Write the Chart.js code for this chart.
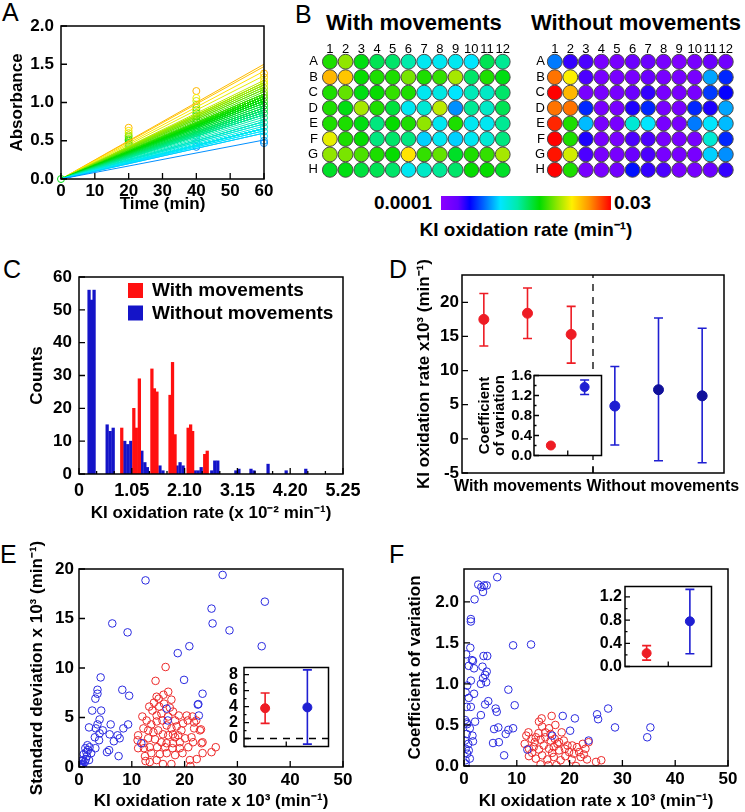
<!DOCTYPE html>
<html lang="en">
<head>
<meta charset="UTF-8" />
<title>KI oxidation rate in 96-well plates</title>
<script src="https://cdn.jsdelivr.net/npm/chart.js"></script>
<style>
  body { margin:0; width:745px; height:812px; position:relative; background:#fff; overflow:hidden;
         font-family:"Liberation Sans", Arial, sans-serif; color:#000; }
  .lbl { position:absolute; white-space:nowrap; line-height:1; }
  .pl { font-size:25px; }
  .b { font-weight:bold; }
  .box { position:absolute; }
  #cbar { position:absolute; left:441px; top:196px; width:170px; height:14px; }
</style>
</head>
<body>
<div class="lbl pl" style="left:2px;top:0px">A</div>
<div class="lbl pl" style="left:295px;top:2px">B</div>
<div class="lbl pl" style="left:3px;top:257px">C</div>
<div class="lbl pl" style="left:389px;top:257px">D</div>
<div class="lbl pl" style="left:0px;top:542px">E</div>
<div class="lbl pl" style="left:389px;top:542px">F</div>

<div class="lbl b" style="left:326px;top:12px;font-size:22px">With movements</div>
<div class="lbl b" style="left:531px;top:12px;font-size:22px">Without movements</div>
<div id="cbar"></div>
<div class="lbl b" style="right:313px;top:193px;font-size:19px">0.0001</div>
<div class="lbl b" style="left:614px;top:193px;font-size:19px">0.03</div>
<div class="lbl b" style="left:526px;top:220px;font-size:19px;transform:translateX(-50%)">KI oxidation rate (min⁻¹)</div>

<script>
// ---- data ----
// well plates, KI oxidation rate x10^-3 min^-1, rows A-H, columns 1-12
const plateRows = ['A', 'B', 'C', 'D', 'E', 'F', 'G', 'H'];
const plateCols = [1, 2, 3, 4, 5, 6, 7, 8, 9, 10, 11, 12];
const rateWith = [
  [18, 20.5, 17, 15.5, 15, 13.5, 11, 11, 11, 10.5, 15.5, 14],
  [25, 24.5, 17.5, 18, 18, 20, 18, 18.5, 21, 15, 18, 17],
  [18, 19.5, 17, 17.5, 18.5, 18, 11, 11.5, 10.5, 13, 12.5, 15],
  [18, 17, 21, 18, 16, 11, 12, 21.5, 8.5, 14, 12.5, 15.5],
  [18, 18, 17, 14.5, 17.5, 18, 20.5, 11, 18, 11, 11, 14],
  [22.5, 18, 17.5, 14.5, 15, 14.5, 10, 11, 10, 11, 12, 14.5],
  [20.5, 20, 19, 18, 17.5, 23.5, 18.5, 19.5, 16.5, 18, 18.5, 21],
  [16.5, 17, 16, 15.5, 15, 11, 12.5, 14, 15, 17.5, 17.5, 16.5]
];
const rateWithout = [
  [8, 4, 3.5, 1.5, 1.5, 2.5, 2.5, 1.5, 1, 1.5, 2.5, 2],
  [27, 23, 3.5, 1.5, 1.5, 1.5, 2.5, 1.5, 1.5, 1.5, 9, 6],
  [30, 25, 1.5, 1.5, 1.5, 2.5, 4, 1.5, 1.5, 1.5, 6.5, 5],
  [27, 27, 6, 1.5, 1.5, 4.5, 6, 1.5, 1.5, 6, 4.5, 9],
  [29, 18, 9.5, 1.5, 1.5, 12, 10.5, 1.5, 1.5, 8, 10.5, 9.5],
  [30, 18, 4.5, 1.5, 1.5, 3.5, 3.5, 1.5, 1.5, 1.5, 12, 6],
  [29.5, 22, 3.5, 1.5, 1.5, 2.5, 3.5, 1.5, 1.5, 1.5, 10, 8.5],
  [30, 18, 1.5, 1.5, 2, 5.5, 4, 3.5, 1.5, 1.5, 2.5, 4]
];
const rateMax = 30;

// A: absorbance readings
const absAt0 = [0];
const absAt20 = [0.67, 0.63, 0.6, 0.57, 0.55, 0.52, 0.5, 0.47, 0.45, 0.42, 0.39, 0.36, 0.33, 0.3, 0.27, 0.25];
const absAt40 = [1.15, 1.06, 1.02, 0.97, 0.93, 0.9, 0.86, 0.82, 0.78, 0.74, 0.7, 0.66, 0.62, 0.57, 0.52, 0.47, 0.42];
const absAt60 = [1.38, 1.33, 1.28, 1.24, 1.19, 1.14, 1.1, 1.06, 1.01, 0.96, 0.91, 0.86, 0.8, 0.74, 0.68, 0.62, 0.56, 0.5, 0.47];
const whiteFitRate = 18.7;

// C: histogram (x 10^-2 min^-1)
const histBinsWith = [0.85, 1.09, 1.14, 1.20, 1.45, 1.50, 1.55, 1.81, 1.86, 1.91, 2.17, 2.22, 2.26, 2.50, 2.55];
const histCountsWith = [14, 20, 14, 29, 32, 26, 25, 24, 34, 12, 14, 15, 13, 6, 7];
const histBinsWithout = [0.20, 0.25, 0.30, 0.56, 0.62, 0.68, 0.91, 0.97, 1.03, 1.25, 1.31, 1.36, 1.61, 1.67,
  1.95, 2.01, 2.07, 2.31, 2.37, 2.43, 2.64, 2.70, 2.76, 3.12, 3.18, 3.42, 3.48, 3.76, 4.12, 4.51];
const histCountsWithout = [56, 53, 56, 15, 13, 14, 10, 9, 10, 7, 3.5, 2, 2.5, 1,
  2.5, 3.5, 2.5, 1, 1, 2, 1, 4, 4, 1, 1.5, 1.5, 1, 3, 1, 1.5];
const histLabels = ['With movements', 'Without movements'];

// D: mean +/- SD of three experiments per condition (x10^3 min^-1)
const dGroups = ['With movements', 'Without movements'];
const dWithMean = [17.5, 18.4, 15.3];
const dWithLo = [13.6, 14.7, 11.1];
const dWithHi = [21.3, 22.1, 19.4];
const dWithoutMean = [4.8, 7.2, 6.3];
const dWithoutLo = [-0.9, -3.2, -3.5];
const dWithoutHi = [10.6, 17.7, 16.2];
const dCvMean = [0.2, 1.37];
const dCvLo = [0.18, 1.22];
const dCvHi = [0.22, 1.51];

// E: standard deviation vs rate
const eBlueX = [12.6, 27.2, 25.1, 35.2, 25.3, 6.3, 9.2, 28.5, 20.9, 34.6, 18.7, 19.9, 4.1, 8.2, 9.5, 3.5, 3.5, 3.1, 23.4, 22.6,
  16.6, 22.7, 16.8, 11.8, 2.5, 4.2, 3.9, 3.5, 1.9, 6.0, 9.3, 8.4, 3.2, 4.5, 5.8, 7.3, 7.7, 6.6, 3.0, 3.9,
  3.8, 3.1, 5.3, 5.7, 7.5, 0.1, 0.3, 0.6, 0.8, 1.1, 0.8, 1.3, 1.5, 0.9, 1.4, 1.7, 1.2, 2.0, 1.6, 2.3,
  0.4, 0.4, 1.9, 0.2, 0.6, 22.5];
const eBlueY = [18.85, 19.4, 16.0, 16.7, 14.5, 14.5, 13.6, 13.8, 12.2, 12.2, 11.5, 8.8, 9.05, 7.8, 7.2, 7.8, 7.4, 6.9, 7.4, 6.35,
  5.9, 5.2, 4.7, 2.4, 5.7, 5.7, 4.8, 4.3, 4.0, 4.3, 4.3, 3.9, 3.9, 3.7, 3.3, 3.2, 2.9, 2.6, 3.0, 3.4,
  2.7, 1.9, 1.5, 1.7, 1.1, 0.0, 0.1, 0.2, 0.3, 0.5, 0.7, 0.8, 1.1, 1.3, 1.5, 1.7, 1.9, 2.0, 2.2, 1.4,
  0.6, 0.3, 0.7, 0.05, 0.0, 6.3];
const eRedX = [16.4, 14.5, 14.7, 16.0, 15.1, 16.9, 17.5, 12.0, 13.3, 13.9, 15.2, 17.8, 18.9, 20.4, 21.5, 22.9, 21.8, 21.8, 23.1, 12.8,
  13.7, 14.7, 15.8, 16.6, 17.5, 18.5, 19.4, 18.8, 17.8, 16.9, 15.9, 15.0, 14.1, 13.1, 12.2, 11.2, 11.1, 12.2, 13.1, 14.4,
  15.6, 16.6, 17.8, 19.1, 20.1, 21.3, 21.6, 23.2, 23.4, 20.7, 19.1, 17.7, 16.3, 14.8, 13.4, 12.3, 11.2, 13.7, 15.3, 16.6,
  18.2, 19.6, 12.5, 14.7, 12.6, 15.9, 17.5, 21.0, 22.3, 21.1, 25.1, 25.9, 23.4, 13.4, 18.2, 15.6, 14.7, 16.9, 18.2, 19.7,
  20.6, 22.2, 16.1, 17.2, 14.2];
const eRedY = [10.1, 8.7, 7.1, 7.3, 6.9, 7.6, 6.8, 5.1, 6.1, 5.7, 6.1, 5.6, 5.2, 5.2, 5.1, 3.7, 4.5, 3.9, 3.8, 4.7,
  4.3, 4.6, 4.7, 4.2, 3.9, 4.1, 3.7, 3.2, 3.3, 3.2, 3.3, 3.7, 3.5, 3.7, 3.9, 3.2, 2.7, 2.4, 2.9, 2.8,
  2.5, 2.4, 2.4, 2.5, 2.9, 3.0, 2.5, 2.4, 2.5, 2.0, 1.9, 1.9, 2.0, 2.0, 2.0, 1.9, 1.9, 1.4, 1.3, 1.4,
  1.2, 1.4, 1.1, 0.7, 0.6, 0.3, 0.3, 0.7, 0.8, 0.1, 1.5, 2.0, 1.4, 0.5, 3.0, 5.4, 5.2, 5.1, 4.7, 4.4,
  4.7, 4.7, 6.4, 6.0, 6.5];
const eSdMean = [3.8, 3.9];
const eSdLo = [1.9, -0.7];
const eSdHi = [5.7, 8.6];

// F: coefficient of variation vs rate
const fBlueX = [6.3, 2.7, 3.8, 4.3, 3.3, 3.6, 2.0, 1.3, 1.3, 9.3, 12.7, 1.2, 0.4, 3.7, 4.4, 1.5, 1.7, 0.9, 3.5, 1.9,
  4.3, 4.0, 3.6, 1.3, 3.2, 4.2, 0.6, 0.3, 1.9, 8.4, 0.9, 4.0, 4.6, 9.6, 0.5, 1.3, 6.0, 6.2, 3.2, 0.2,
  2.1, 0.5, 0.6, 6.5, 5.7, 1.1, 9.3, 8.4, 18.7, 21.0, 25.2, 27.3, 25.4, 28.6, 35.3, 34.7, 20.1, 23.6, 16.7, 7.9,
  5.5, 6.6, 7.6, 1.6, 1.7, 0.8, 0.3, 0.6, 1.1, 0.3, 0.2, 0.5, 12.0, 0.3, 0.9];
const fBlueY = [2.30, 2.21, 2.20, 2.20, 2.18, 2.12, 2.03, 1.79, 1.76, 1.47, 1.48, 1.44, 1.36, 1.34, 1.34, 1.29, 1.28, 1.22, 1.21, 1.19,
  1.15, 1.11, 1.07, 1.04, 1.00, 1.02, 0.98, 0.90, 0.88, 0.93, 0.83, 0.75, 0.79, 0.74, 0.72, 0.72, 0.70, 0.66, 0.62, 0.56,
  0.54, 0.53, 0.51, 0.47, 0.45, 0.46, 0.46, 0.44, 0.61, 0.58, 0.63, 0.70, 0.57, 0.47, 0.47, 0.35, 0.43, 0.31, 0.37, 0.39,
  0.28, 0.29, 0.13, 0.37, 0.30, 0.27, 0.21, 0.15, 0.09, 0.07, 0.31, 0.39, 0.20, 0.03, 0.19];
const fRedX = [14.7, 16.6, 12.2, 14.1, 14.8, 16.1, 17.3, 18.5, 12.8, 13.6, 14.5, 15.4, 16.4, 17.2, 18.0, 18.9, 20.5, 21.4, 22.5, 23.0,
  11.5, 12.3, 13.2, 14.2, 15.1, 16.1, 17.0, 18.0, 19.1, 19.9, 20.8, 21.8, 22.7, 23.3, 25.0, 26.0, 12.3, 13.6, 14.8, 15.8,
  17.0, 18.3, 19.2, 20.4, 21.2, 16.0, 17.5, 14.5, 12.9, 16.7, 17.7, 16.4, 15.4, 13.4, 19.6, 22.1, 23.6, 14.2, 11.8];
const fRedY = [0.58, 0.61, 0.41, 0.40, 0.48, 0.46, 0.50, 0.41, 0.33, 0.35, 0.32, 0.35, 0.31, 0.33, 0.29, 0.31, 0.25, 0.23, 0.27, 0.21,
  0.27, 0.21, 0.23, 0.20, 0.25, 0.21, 0.23, 0.19, 0.21, 0.17, 0.15, 0.17, 0.14, 0.08, 0.05, 0.07, 0.12, 0.09, 0.13, 0.08,
  0.11, 0.07, 0.12, 0.08, 0.00, 0.01, 0.01, 0.02, 0.16, 0.16, 0.27, 0.39, 0.41, 0.29, 0.25, 0.11, 0.29, 0.54, 0.37];
const fCvMean = [0.23, 0.78];
const fCvLo = [0.11, 0.22];
const fCvHi = [0.36, 1.33];

// ---- styling helpers ----
const FONT = '"Liberation Sans", Arial, sans-serif';
Chart.defaults.font.family = FONT;
Chart.defaults.color = '#000';
const RED = '#ee1c24';
const BLUE = '#1f1fd2';
const NAVY = '#10109a';

const cmapStops = [
  [0.00, [140, 0, 255]], [0.10, [100, 0, 255]], [0.17, [0, 0, 255]], [0.25, [0, 100, 255]],
  [0.35, [0, 230, 255]], [0.45, [0, 235, 170]], [0.58, [0, 220, 0]], [0.68, [140, 230, 0]],
  [0.77, [255, 240, 0]], [0.87, [255, 150, 0]], [1.00, [255, 0, 0]]
];
function rateColor(v) {
  const f = Math.max(0, Math.min(1, v / rateMax));
  for (let i = 1; i < cmapStops.length; i++) {
    const [f1, c1] = cmapStops[i];
    if (f <= f1) {
      const [f0, c0] = cmapStops[i - 1];
      const t = (f - f0) / (f1 - f0);
      const c = c0.map((a, k) => Math.round(a + (c1[k] - a) * t));
      return `rgb(${c[0]},${c[1]},${c[2]})`;
    }
  }
  return 'rgb(255,0,0)';
}
document.getElementById('cbar').style.background =
  'linear-gradient(to right,' + cmapStops.map(([f, c]) => `rgb(${c.join(',')}) ${f * 100}%`).join(',') + ')';

const bold = size => ({ size, weight: 'bold' });
const noGrid = { display: false, drawTicks: false };

// box around plot area + ticks pointing inwards
const framePlugin = {
  id: 'frame',
  beforeDraw(chart, args, opts) {
    if (!opts.bg) return;
    const a = chart.chartArea, c = chart.ctx;
    c.save(); c.fillStyle = opts.bg;
    c.fillRect(a.left, a.top, a.right - a.left, a.bottom - a.top);
    c.restore();
  },
  afterDraw(chart, args, opts) {
    const a = chart.chartArea, c = chart.ctx, xs = chart.scales.x, ys = chart.scales.y;
    c.save();
    c.strokeStyle = '#000';
    c.lineWidth = 1.5;
    c.strokeRect(a.left, a.top, a.right - a.left, a.bottom - a.top);
    c.lineWidth = 1.3;
    const len = opts.tickLen || 6;
    const xv = opts.xTicks || xs.ticks.map(t => t.value);
    const yv = opts.yTicks || ys.ticks.map(t => t.value);
    c.beginPath();
    xv.forEach(v => { const p = xs.getPixelForValue(v); c.moveTo(p, a.bottom); c.lineTo(p, a.bottom - len); });
    yv.forEach(v => { const p = ys.getPixelForValue(v); c.moveTo(a.left, p); c.lineTo(a.left + len, p); });
    if (opts.minorX) {
      for (let v = xs.min; v <= xs.max + 1e-9; v += opts.minorX) {
        const p = xs.getPixelForValue(v); c.moveTo(p, a.bottom); c.lineTo(p, a.bottom - len / 2);
      }
    }
    if (opts.minorY) {
      for (let v = Math.ceil(ys.min / opts.minorY) * opts.minorY; v <= ys.max + 1e-9; v += opts.minorY) {
        const p = ys.getPixelForValue(v); c.moveTo(a.left, p); c.lineTo(a.left + len / 2, p);
      }
    }
    c.stroke();
    c.restore();
  }
};

// vertical error bars, drawn under the points
const errorBarPlugin = {
  id: 'errbars',
  beforeDatasetsDraw(chart) {
    const c = chart.ctx, xs = chart.scales.x, ys = chart.scales.y;
    chart.data.datasets.forEach(ds => {
      if (!ds.errLo) return;
      c.save();
      c.strokeStyle = ds.errColor;
      c.lineWidth = 1.6;
      ds.data.forEach((pt, i) => {
        const x = xs.getPixelForValue(pt.x);
        const y1 = ys.getPixelForValue(ds.errLo[i]), y2 = ys.getPixelForValue(ds.errHi[i]);
        c.beginPath();
        c.moveTo(x, y1); c.lineTo(x, y2);
        c.moveTo(x - 4.5, y1); c.lineTo(x + 4.5, y1);
        c.moveTo(x - 4.5, y2); c.lineTo(x + 4.5, y2);
        c.stroke();
      });
      c.restore();
    });
  }
};

// square legend inside the histogram
const boxLegend = {
  id: 'boxLegend',
  afterDraw(chart, args, opts) {
    const c = chart.ctx, a = chart.chartArea;
    c.save();
    c.font = `bold 19px ${FONT}`;
    c.textBaseline = 'middle';
    chart.data.datasets.forEach((ds, i) => {
      const y = a.top + opts.top + i * opts.gap;
      c.fillStyle = ds.backgroundColor;
      c.fillRect(a.left + opts.left, y, 15, 15);
      c.fillStyle = '#000';
      c.fillText(ds.label, a.left + opts.left + 24, y + 8);
    });
    c.restore();
  }
};

// put a chart so that its plot area lands on box [L,T,R,B]; m = space for axes [left,top,right,bottom]
function place(box, m, config) {
  const [L, T, R, B] = box, [ml, mt, mr, mb] = m;
  const div = document.createElement('div');
  div.className = 'box';
  Object.assign(div.style, {
    left: (L - ml) + 'px', top: (T - mt) + 'px',
    width: (R - L + ml + mr) + 'px', height: (B - T + mt + mb) + 'px'
  });
  const cv = document.createElement('canvas');
  div.appendChild(cv);
  document.body.appendChild(div);
  const o = config.options;
  o.responsive = true;
  o.maintainAspectRatio = false;
  o.animation = false;
  o.devicePixelRatio = 1;
  const xs = o.scales.x, ys = o.scales.y;
  const xTop = xs.position === 'top';
  o.layout = { padding: { left: 0, right: mr, top: xTop ? 0 : mt, bottom: xTop ? mb : 0 } };
  xs.afterFit = s => { s.height = xTop ? mt : mb; s.paddingLeft = 0; s.paddingRight = 0; };
  ys.afterFit = s => { s.width = ml; s.paddingTop = 0; s.paddingBottom = 0; };
  o.plugins = Object.assign({ legend: { display: false }, tooltip: { enabled: false } }, o.plugins || {});
  return new Chart(cv, config);
}

function axisTitle(text, size, pad) {
  return { display: true, text, font: bold(size), padding: pad === undefined ? { top: 4, bottom: 4 } : pad };
}

// ---- A: absorbance vs time ----
const aLines = rateWith.flat().slice().sort((p, q) => p - q).map(r => ({
  data: [{ x: 0, y: 0 }, { x: 60, y: r * 60 / 1000 }],
  showLine: true, borderColor: rateColor(r), borderWidth: 1, pointRadius: 0
}));
aLines.push({
  data: [{ x: 0, y: 0 }, { x: 60, y: whiteFitRate * 60 / 1000 }],
  showLine: true, borderColor: '#fff', borderWidth: 1.6, pointRadius: 0
});
// readings coloured like the fit lines: lowest reading cyan, highest orange
const rateLo = Math.min(...rateWith.flat()), rateHi = Math.max(...rateWith.flat());
[[0, absAt0], [20, absAt20], [40, absAt40], [60, absAt60]].forEach(([t, vals]) => {
  const lo = Math.min(...vals), hi = Math.max(...vals);
  aLines.push({
    data: vals.map(y => ({ x: t, y })),
    pointRadius: 3.5, pointBorderWidth: 1, pointBackgroundColor: 'rgba(0,0,0,0)',
    pointBorderColor: vals.map(y => rateColor(hi > lo ? rateLo + (y - lo) / (hi - lo) * (rateHi - rateLo) : 17)),
    clip: false
  });
});
place([61, 26, 264, 179], [58, 10, 12, 40], {
  type: 'scatter',
  data: { datasets: aLines },
  options: {
    scales: {
      x: { type: 'linear', min: 0, max: 60, grid: noGrid, border: { display: false },
           ticks: { stepSize: 10, font: bold(17), padding: 2, maxRotation: 0 },
           title: axisTitle('Time (min)', 17) },
      y: { min: 0, max: 2, grid: noGrid, border: { display: false },
           ticks: { stepSize: 0.5, font: bold(17), padding: 7, callback: v => v.toFixed(1) },
           title: axisTitle('Absorbance', 17) }
    }
  },
  plugins: [framePlugin]
});

// ---- B: well plates ----
function plateConfig(rates, rowPad) {
  const pts = [];
  rates.forEach((row, r) => row.forEach((v, c) => pts.push({ x: plateCols[c], y: r + 1 })));
  const cols = rates.flat().map(rateColor);
  return {
    type: 'scatter',
    data: { datasets: [{ data: pts, pointRadius: 7.4, pointBorderWidth: 1, pointBorderColor: '#4a4a4a',
                         pointBackgroundColor: cols, clip: false }] },
    options: {
      scales: {
        x: { type: 'linear', position: 'top', min: 0.5, max: 12.5, grid: noGrid, border: { display: false },
             afterBuildTicks: s => { s.ticks = plateCols.map(v => ({ value: v })); },
             ticks: { font: { size: 13 }, padding: -3, autoSkip: false, maxRotation: 0 } },
        y: { type: 'linear', reverse: true, min: 0.5, max: 8.5, grid: noGrid, border: { display: false },
             afterBuildTicks: s => { s.ticks = plateRows.map((r, i) => ({ value: i + 1 })); },
             ticks: { font: { size: 13 }, padding: rowPad, autoSkip: false, callback: v => plateRows[v - 1] } }
      }
    }
  };
}
place([322, 54, 517, 184], [22, 16, 2, 2], plateConfig(rateWith, 4));
place([547, 54, 740, 184], [22, 16, 2, 2], plateConfig(rateWithout, 2));

// ---- C: histogram ----
place([79, 277, 343, 474], [56, 10, 24, 54], {
  type: 'bar',
  data: {
    datasets: [
      { label: histLabels[0], data: histBinsWith.map((x, i) => ({ x, y: histCountsWith[i] })),
        backgroundColor: '#ff1010', barThickness: 2.6, grouped: false },
      { label: histLabels[1], data: histBinsWithout.map((x, i) => ({ x, y: histCountsWithout[i] })),
        backgroundColor: '#1414c8', barThickness: 2.6, grouped: false }
    ]
  },
  options: {
    scales: {
      x: { type: 'linear', min: 0, max: 5.25, offset: false, grid: noGrid, border: { display: false },
           afterBuildTicks: s => { s.ticks = [0, 1.05, 2.1, 3.15, 4.2, 5.25].map(v => ({ value: v })); },
           ticks: { font: bold(18), padding: 6, maxRotation: 0, autoSkip: false,
                    callback: v => v === 0 ? '0' : v.toFixed(2) },
           title: axisTitle('KI oxidation rate (x 10⁻² min⁻¹)', 17) },
      y: { min: 0, max: 60, grid: noGrid, border: { display: false },
           ticks: { stepSize: 10, font: bold(17), padding: 7 },
           title: axisTitle('Counts', 17) }
    },
    plugins: { frame: { minorX: 0.35 }, boxLegend: { left: 49, top: 6, gap: 22.5 } }
  },
  plugins: [framePlugin, boxLegend]
});

// ---- D: three experiments ----
place([462, 275, 724, 473], [52, 45, 15, 26], {
  type: 'scatter',
  data: {
    datasets: [
      { data: [{ x: 3.5, y: -5 }, { x: 3.5, y: 24 }], showLine: true, borderColor: '#000',
        borderDash: [7, 6], borderWidth: 1.3, pointRadius: 0 },
      { data: dWithMean.map((y, i) => ({ x: i + 1, y })), pointRadius: 5, pointBackgroundColor: RED,
        pointBorderColor: RED, errLo: dWithLo, errHi: dWithHi, errColor: RED },
      { data: dWithoutMean.map((y, i) => ({ x: i + 4, y })), pointRadius: 5,
        pointBackgroundColor: [BLUE, NAVY, NAVY], pointBorderColor: [BLUE, NAVY, NAVY],
        errLo: dWithoutLo, errHi: dWithoutHi, errColor: BLUE }
    ]
  },
  options: {
    scales: {
      x: { type: 'linear', min: 0.5, max: 6.5, grid: noGrid, border: { display: false },
           afterBuildTicks: s => { s.ticks = [1.78, 5.1].map(v => ({ value: v })); },
           ticks: { font: bold(16), padding: 4, maxRotation: 0, autoSkip: false, callback: (v, i) => dGroups[i] } },
      y: { min: -5, max: 24, grid: noGrid, border: { display: false },
           afterBuildTicks: s => { s.ticks = [-5, 0, 5, 10, 15, 20].map(v => ({ value: v })); },
           ticks: { font: bold(17), padding: 3 },
           title: axisTitle('KI oxidation rate x10³ (min⁻¹)', 17) }
    },
    plugins: { frame: { xTicks: [3.5] } }
  },
  plugins: [framePlugin, errorBarPlugin]
});

// inset: two summary points with error bars
function insetConfig(means, lo, hi, yMin, yMax, yTicks, fmt, fontSize, pad, minorY, title, extra) {
  const ds = [
    { data: [{ x: 1, y: means[0] }], pointRadius: 4.5, pointBackgroundColor: RED, pointBorderColor: RED,
      errLo: [lo[0]], errHi: [hi[0]], errColor: RED },
    { data: [{ x: 2, y: means[1] }], pointRadius: 4.5, pointBackgroundColor: BLUE, pointBorderColor: BLUE,
      errLo: [lo[1]], errHi: [hi[1]], errColor: BLUE }
  ];
  if (extra) ds.unshift(extra);
  return {
    type: 'scatter',
    data: { datasets: ds },
    options: {
      scales: {
        x: { type: 'linear', min: 0.5, max: 2.5, grid: noGrid, border: { display: false }, ticks: { display: false } },
        y: { min: yMin, max: yMax, grid: noGrid, border: { display: false },
             afterBuildTicks: s => { s.ticks = yTicks.map(v => ({ value: v })); },
             ticks: { font: bold(fontSize), padding: pad, autoSkip: false, callback: fmt },
             title: title || { display: false } }
      },
      plugins: { frame: { bg: '#fff', xTicks: [1.5], tickLen: 5, minorY } }
    },
    plugins: [framePlugin, errorBarPlugin]
  };
}
place([534, 370, 607, 461], [61, 0, 0, 0], insetConfig(dCvMean, dCvLo, dCvHi, 0, 1.6,
  [0, 0.4, 0.8, 1.2, 1.6], v => v.toFixed(1), 15, 2, 0.2,
  { display: true, text: ['Coefficient', 'of variation'], font: { size: 15, weight: 'bold', lineHeight: 1 },
    padding: { top: 4, bottom: 0 } }));

// ---- E / F: scatter of all wells ----
function scatterConfig(blueX, blueY, redX, redY, yMax, yStep, yFmt, yTitle) {
  return {
    type: 'scatter',
    data: {
      datasets: [
        { data: blueX.map((x, i) => ({ x, y: blueY[i] })), pointRadius: 3.8, pointBorderWidth: 1,
          pointBackgroundColor: 'rgba(0,0,0,0)', pointBorderColor: '#2a2ae0' },
        { data: redX.map((x, i) => ({ x, y: redY[i] })), pointRadius: 3.8, pointBorderWidth: 1,
          pointBackgroundColor: 'rgba(0,0,0,0)', pointBorderColor: '#ec2a2a' }
      ]
    },
    options: {
      scales: {
        x: { type: 'linear', min: 0, max: 50, grid: noGrid, border: { display: false },
             ticks: { stepSize: 10, font: bold(17), padding: 3, maxRotation: 0 },
             title: axisTitle('KI oxidation rate x 10³ (min⁻¹)', 17, { top: 2, bottom: 0 }) },
        y: { min: 0, max: yMax, grid: noGrid, border: { display: false },
             afterBuildTicks: s => { const t = []; for (let v = 0; v <= yMax + 1e-9; v += yStep) t.push({ value: v }); s.ticks = t; },
             ticks: { font: bold(17), padding: 5, callback: yFmt },
             title: axisTitle(yTitle, 17) }
      }
    },
    plugins: [framePlugin]
  };
}
place([79, 569, 343, 767], [56, 50, 15, 45],
  scatterConfig(eBlueX, eBlueY, eRedX, eRedY, 20, 5, v => String(Math.round(v)), 'Standard deviation x 10³ (min⁻¹)'));
place([244, 662, 334, 752], [30, 0, 0, 0], insetConfig(eSdMean, eSdLo, eSdHi, -1, 8.9,
  [0, 2, 4, 6, 8], v => String(v), 16, 6, 1, null,
  { data: [{ x: 0.5, y: 0 }, { x: 2.5, y: 0 }], showLine: true, borderColor: '#000', borderDash: [7, 6],
    borderWidth: 1.3, pointRadius: 0 }));

place([464, 569, 728, 766], [63, 30, 15, 46],
  scatterConfig(fBlueX, fBlueY, fRedX, fRedY, 2.4, 0.5, v => v.toFixed(1), 'Coefficient of variation'));
place([625, 581, 717, 672], [30, 0, 0, 0], insetConfig(fCvMean, fCvLo, fCvHi, 0, 1.38,
  [0, 0.4, 0.8, 1.2], v => v.toFixed(1), 16, 3, 0.2, null));
</script>
</body>
</html>
